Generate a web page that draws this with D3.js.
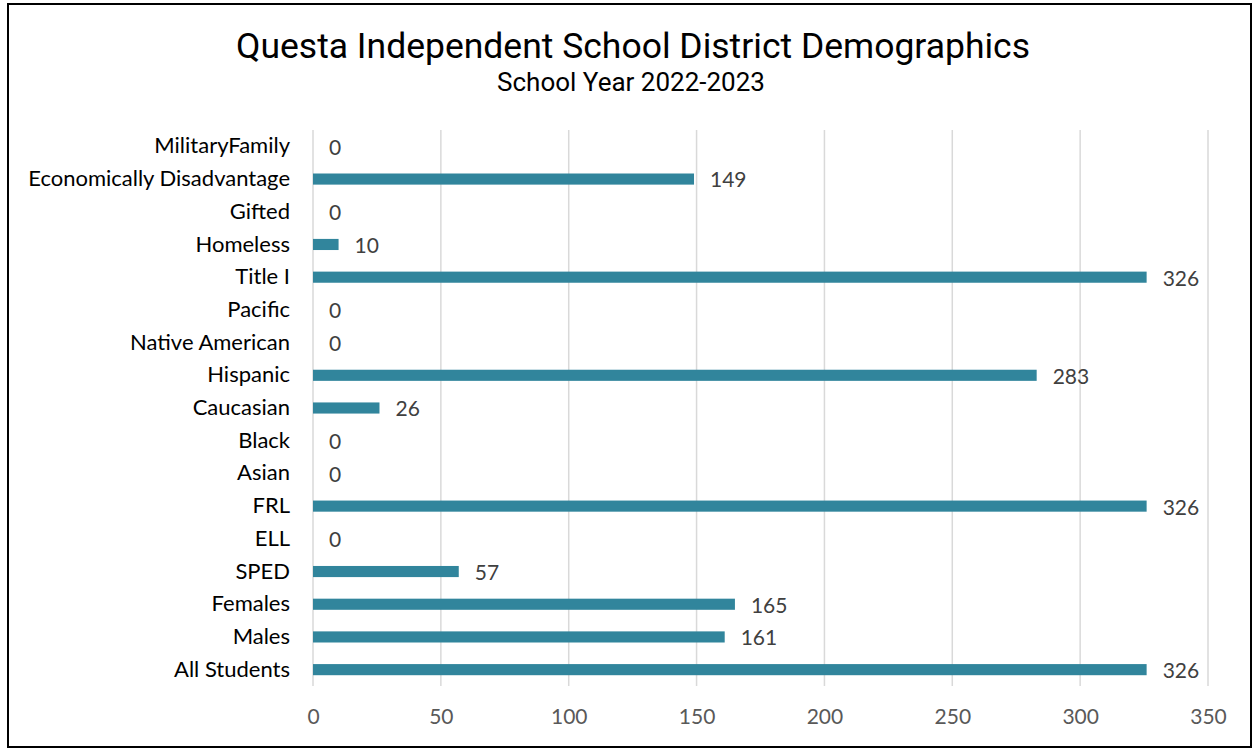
<!DOCTYPE html>
<html lang="en">
<head>
    <meta charset="UTF-8">
    <title>Questa ISD Demographics</title>
    <script src="https://d3js.org/d3.v7.min.js"></script>
    <style>
        body { margin: 0; background: #fff; }
    </style>
</head>
<body>
<script>
    // data, top to bottom as shown
    var categories = ['MilitaryFamily', 'Economically Disadvantage', 'Gifted', 'Homeless', 'Title I',
        'Pacific', 'Native American', 'Hispanic', 'Caucasian', 'Black', 'Asian', 'FRL', 'ELL',
        'SPED', 'Females', 'Males', 'All Students'];
    var values = [0, 149, 0, 10, 326, 0, 0, 283, 26, 0, 0, 326, 0, 57, 165, 161, 326];
    var xTicks = [0, 50, 100, 150, 200, 250, 300, 350];

    var width = 1254, height = 750;
    var margin = {top: 130, right: 46, bottom: 64, left: 313};

    var svg = d3.select('body').append('svg')
            .attr('width', width)
            .attr('height', height);

    // outer frame
    svg.append('rect')
            .attr('x', 8).attr('y', 4)
            .attr('width', 1243).attr('height', 743)
            .attr('fill', 'none')
            .attr('stroke', '#000')
            .attr('stroke-width', 2);

    svg.append('text')
            .attr('x', 633).attr('y', 58)
            .attr('text-anchor', 'middle')
            .attr('font-family', 'Roboto, sans-serif')
            .attr('font-size', 35.5)
            .attr('fill', '#000')
            .text('Questa Independent School District Demographics');

    svg.append('text')
            .attr('x', 631).attr('y', 91)
            .attr('text-anchor', 'middle')
            .attr('font-family', 'Roboto, sans-serif')
            .attr('font-size', 26)
            .attr('fill', '#000')
            .text('School Year 2022-2023');

    var x = d3.scaleLinear()
            .domain([0, 350])
            .range([margin.left, width - margin.right]);

    var y = d3.scaleBand()
            .domain(categories)
            .range([margin.top, height - margin.bottom])
            .paddingInner(0.66)
            .paddingOuter(0.33);

    var font = 'Lato, sans-serif';

    // vertical gridlines
    svg.append('g').selectAll('line')
            .data(xTicks)
            .enter().append('line')
            .attr('x1', function(d) { return x(d); })
            .attr('x2', function(d) { return x(d); })
            .attr('y1', margin.top)
            .attr('y2', height - margin.bottom)
            .attr('stroke', '#d9d9d9')
            .attr('stroke-width', 1.5);

    // x axis labels
    var xAxis = d3.axisBottom(x).tickValues(xTicks).tickSize(0).tickPadding(23);
    var gx = svg.append('g')
            .attr('transform', 'translate(0,' + (height - margin.bottom) + ')')
            .call(xAxis);
    gx.select('.domain').remove();
    gx.selectAll('text')
            .attr('font-family', font)
            .attr('font-size', 21)
            .attr('fill', '#595959');

    // y axis labels
    var yAxis = d3.axisLeft(y).tickSize(0).tickPadding(23);
    var gy = svg.append('g')
            .attr('transform', 'translate(' + margin.left + ',0)')
            .call(yAxis);
    gy.select('.domain').remove();
    gy.selectAll('text')
            .attr('font-family', font)
            .attr('font-size', 22)
            .attr('fill', '#000');

    // bars
    svg.append('g').selectAll('rect')
            .data(values)
            .enter().append('rect')
            .attr('x', x(0))
            .attr('y', function(d, i) { return y(categories[i]); })
            .attr('width', function(d) { return x(d) - x(0); })
            .attr('height', y.bandwidth())
            .attr('fill', '#31859c');

    // value labels
    svg.append('g').selectAll('text')
            .data(values)
            .enter().append('text')
            .attr('x', function(d) { return x(d) + 16; })
            .attr('y', function(d, i) { return y(categories[i]) + y.bandwidth() / 2; })
            .attr('dy', '0.4em')
            .attr('font-family', font)
            .attr('font-size', 21)
            .attr('fill', '#404040')
            .text(function(d) { return d; });
</script>
</body>
</html>
